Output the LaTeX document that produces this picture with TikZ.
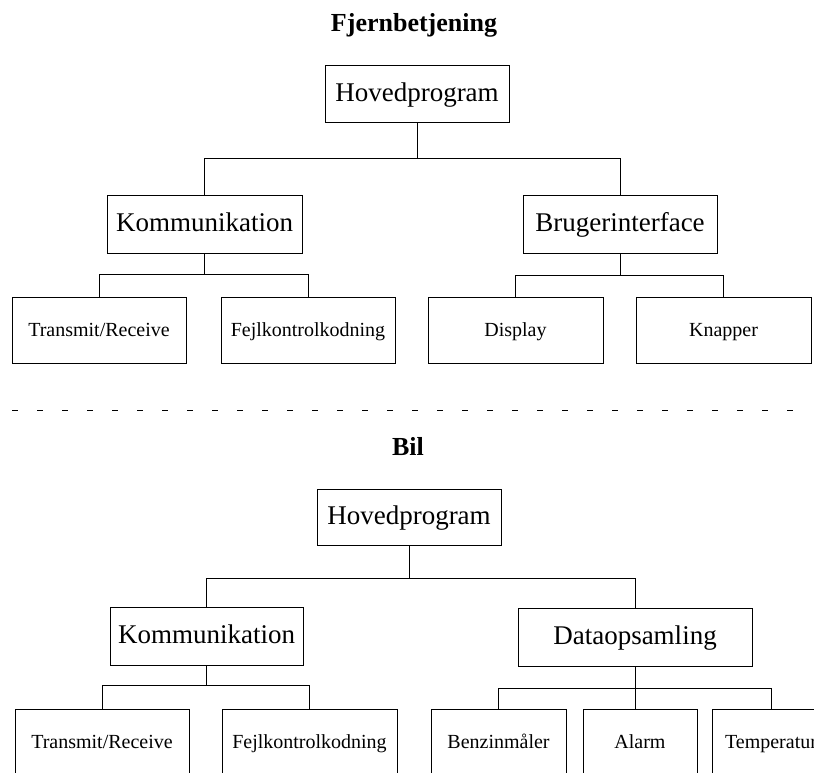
\documentclass[tikz,border=0pt]{standalone}
\usepackage{fontspec}
\setmainfont{Liberation Serif}
\begin{document}
\begin{tikzpicture}[x=1pt,y=-1pt,
  box/.style={draw, line width=0.9pt, inner sep=0pt, align=center},
  midbox/.style={box, minimum height=58pt, text height=20pt, text depth=5pt,
    font=\fontsize{27}{30}\selectfont},
  leafbox/.style={box, minimum height=66pt, text height=15pt, text depth=3pt,
    font=\fontsize{20}{23}\selectfont},
  heading/.style={anchor=base, font=\bfseries\fontsize{26}{29}\selectfont},
  link/.style={line width=0.8pt},
  divider/.style={line width=1pt, dash pattern=on 5.5pt off 19.5pt}]
\useasboundingbox (0,0) rectangle (814,772);
\clip (0,0) rectangle (814,772);

% ---------- Fjernbetjening ----------
\node[heading] (t1) at (414,31) {Fjernbetjening};
\node[midbox, minimum width=184pt, minimum height=57pt] (hp1) at (417,93.5) {Hovedprogram};
\node[midbox, minimum width=195pt] (k1) at (204.5,224) {Kommunikation};
\node[midbox, minimum width=194pt] (b1) at (620,224) {Brugerinterface};
\node[leafbox, minimum width=174pt] (tr1) at (99,330) {Transmit/Receive};
\node[leafbox, minimum width=174pt] (fe1) at (308,330) {Fejlkontrolkodning};
\node[leafbox, minimum width=175pt] (di1) at (515.5,330) {Display};
\node[leafbox, minimum width=175pt] (kn1) at (723.5,330) {Knapper};

\draw[link] (hp1.south) -- (hp1.south |- 0,158);
\draw[link] (k1.north) |- (b1.north |- 0,158) -- (b1.north);
\draw[link] (k1.south) -- (k1.south |- 0,274);
\draw[link] (tr1.north) |- (fe1.north |- 0,274) -- (fe1.north);
\draw[link] (b1.south) -- (b1.south |- 0,275);
\draw[link] (di1.north) |- (kn1.north |- 0,275) -- (kn1.north);

% ---------- divider ----------
\coordinate (dl) at (12,410.7);
\coordinate (dr) at (795,410.7);
\draw[divider] (dl) -- (dr);

% ---------- Bil ----------
\node[heading] (t2) at (408,455) {Bil};
\node[midbox, minimum width=184pt, minimum height=56pt] (hp2) at (409,517) {Hovedprogram};
\node[midbox, minimum width=193pt] (k2) at (206.5,636) {Kommunikation};
\node[midbox, minimum width=234pt] (d2) at (635,637) {Dataopsamling};
\node[leafbox, minimum width=174pt] (tr2) at (102,742) {Transmit/Receive};
\node[leafbox, minimum width=175pt] (fe2) at (309.5,742) {Fejlkontrolkodning};
\node[leafbox, minimum width=135pt] (be2) at (498.5,742) {Benzinmåler};
\node[leafbox, minimum width=114pt] (al2) at (640,742) {Alarm};
\node[leafbox, minimum width=118pt] (te2) at (771,742) {Temperatur};

\draw[link] (hp2.south) -- (hp2.south |- 0,578);
\draw[link] (k2.north) |- (d2.north |- 0,578) -- (d2.north);
\draw[link] (k2.south) -- (k2.south |- 0,685);
\draw[link] (tr2.north) |- (fe2.north |- 0,685) -- (fe2.north);
\draw[link] (d2.south) -- (d2.south |- al2.north);
\draw[link] (be2.north) |- (te2.north |- 0,688) -- (te2.north);
\end{tikzpicture}
\end{document}
